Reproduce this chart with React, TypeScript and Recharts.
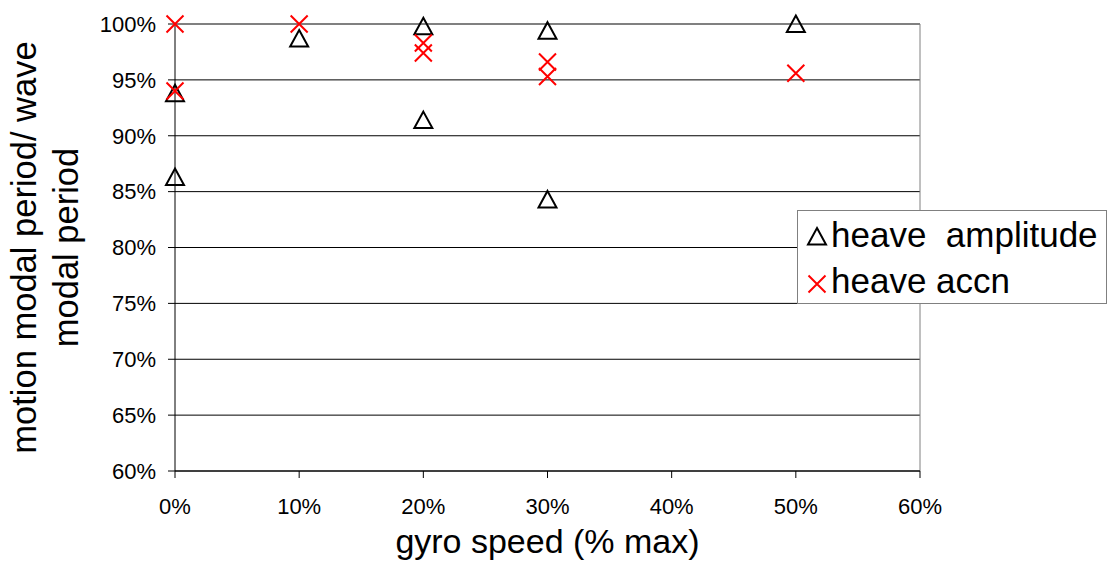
import {
  CartesianGrid,
  Legend,
  ReferenceLine,
  Scatter,
  ScatterChart,
  XAxis,
  YAxis,
} from "recharts";

const FONT = '"Liberation Sans", Arial, sans-serif';

const xTicks = [0, 0.1, 0.2, 0.3, 0.4, 0.5, 0.6];
const yTicks = [0.6, 0.65, 0.7, 0.75, 0.8, 0.85, 0.9, 0.95, 1];

const ampSpeed = [0, 0, 0.1, 0.2, 0.2, 0.3, 0.3, 0.5];
const ampRatio = [0.938, 0.863, 0.987, 0.998, 0.914, 0.994, 0.843, 1.0];

const accnSpeed = [0, 0, 0.1, 0.2, 0.2, 0.3, 0.3, 0.5];
const accnRatio = [1.0, 0.94, 1.0, 0.983, 0.974, 0.966, 0.953, 0.956];

const ampData = ampSpeed.map((s, i) => ({ speed: s, ratio: ampRatio[i] }));
const accnData = accnSpeed.map((s, i) => ({ speed: s, ratio: accnRatio[i] }));

const TICK = { fontSize: 22, fill: "#000", fontFamily: FONT };
const pct = (v: number) => `${Math.round(v * 100)}%`;

function Triangle({ cx, cy }: any) {
  return (
    <path
      d={`M${cx},${cy - 8.5}L${cx + 9},${cy + 8}L${cx - 9},${cy + 8}Z`}
      fill="none"
      stroke="#000"
      strokeWidth={2}
    />
  );
}

function Cross({ cx, cy }: any) {
  const r = 8.5;
  return (
    <path
      d={`M${cx - r},${cy - r}L${cx + r},${cy + r}M${cx - r},${cy + r}L${cx + r},${cy - r}`}
      stroke="#ff0000"
      strokeWidth={2}
      fill="none"
    />
  );
}

function LegendBox() {
  return (
    <svg width={310} height={94} style={{ display: "block" }}>
      <rect x={0.5} y={0.5} width={309} height={93} fill="#fff" stroke="#808080" />
      <Triangle cx={20} cy={26.5} />
      <text x={34} y={37} fontSize={35} fontFamily={FONT} fill="#000" style={{ whiteSpace: "pre" }}>
        {"heave  amplitude"}
      </text>
      <Cross cx={20} cy={74} />
      <text x={34} y={83} fontSize={35} fontFamily={FONT} fill="#000">
        heave accn
      </text>
    </svg>
  );
}

function YTitle({ viewBox }: any) {
  const cy = viewBox.y + viewBox.height / 2;
  const x1 = viewBox.x + 36;
  const x2 = viewBox.x + 78;
  return (
    <g fontSize={34.5} fontFamily={FONT} fill="#000" textAnchor="middle">
      <text x={x1} y={cy} transform={`rotate(-90, ${x1}, ${cy})`}>
        motion modal period/ wave
      </text>
      <text x={x2} y={cy} transform={`rotate(-90, ${x2}, ${cy})`}>
        modal period
      </text>
    </g>
  );
}

function XTitle({ viewBox }: any) {
  return (
    <text
      x={viewBox.x + viewBox.width / 2}
      y={viewBox.y + 82}
      fontSize={34}
      fontFamily={FONT}
      fill="#000"
      textAnchor="middle"
    >
      gyro speed (% max)
    </text>
  );
}

export default function App() {
  return (
    <div style={{ position: "absolute", left: 0, top: 0, background: "#fff" }}>
      <ScatterChart
        width={1112}
        height={566}
        margin={{ top: 24, right: 192, bottom: 0, left: 0 }}
      >
        <CartesianGrid stroke="#000" vertical={false} />
        <XAxis
          dataKey="speed"
          type="number"
          domain={[0, 0.6]}
          ticks={xTicks}
          tickFormatter={pct}
          tick={TICK}
          height={95}
          stroke="#000"
          tickSize={7}
          tickMargin={20}
          label={<XTitle />}
        />
        <YAxis
          dataKey="ratio"
          type="number"
          domain={[0.6, 1]}
          ticks={yTicks}
          tickFormatter={pct}
          tick={TICK}
          width={175}
          stroke="#000"
          tickSize={7}
          tickMargin={12}
          label={<YTitle />}
        />
        <ReferenceLine y={1} stroke="#808080" strokeWidth={1.5} />
        <ReferenceLine x={0.6} stroke="#808080" />
        <Scatter
          name="heave  amplitude"
          data={ampData}
          shape={(p: any) => <Triangle {...p} />}
          isAnimationActive={false}
        />
        <Scatter
          name="heave accn"
          data={accnData}
          shape={(p: any) => <Cross {...p} />}
          isAnimationActive={false}
        />
        <Legend
          layout="vertical"
          align="center"
          verticalAlign="middle"
          wrapperStyle={{ left: 797, top: 210, width: 310, height: 94 }}
          content={() => <LegendBox />}
        />
      </ScatterChart>
    </div>
  );
}
